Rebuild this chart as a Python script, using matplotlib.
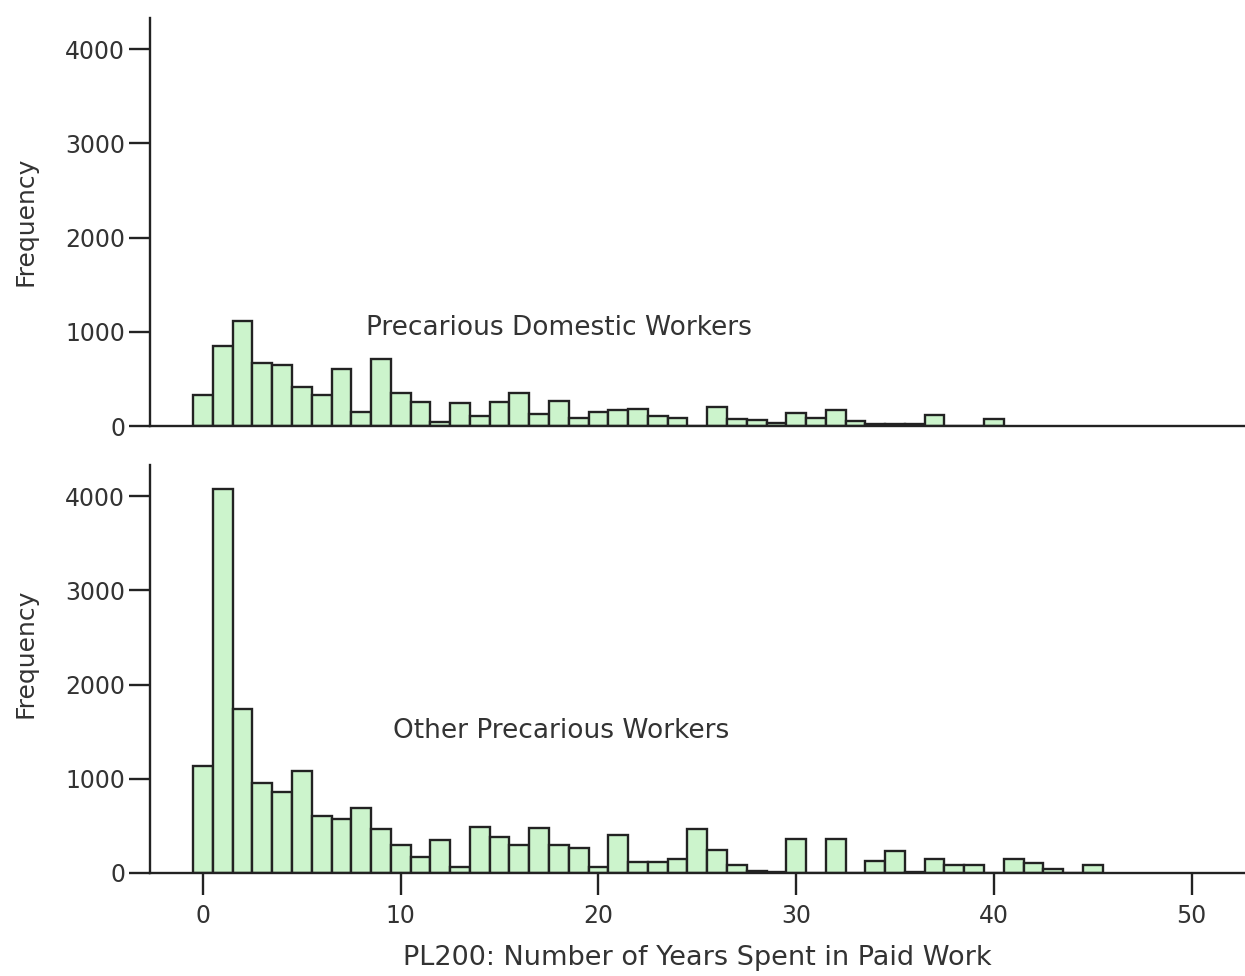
import numpy as np
import matplotlib
matplotlib.use("Agg")
import matplotlib.pyplot as plt

# Frequencies per whole year of paid work
domestic_years = np.arange(0, 41)
domestic_freq = [330, 850, 1110, 665, 645, 410, 330, 605, 150, 715,
                 345, 255, 45, 240, 110, 255, 350, 125, 265, 80,
                 150, 175, 185, 110, 90, 0, 205, 75, 65, 30,
                 135, 90, 175, 55, 20, 20, 20, 115, 0, 0,
                 75]

other_years = np.arange(0, 46)
other_freq = [1140, 4080, 1740, 955, 860, 1085, 600, 575, 685, 470,
              295, 170, 345, 60, 490, 380, 300, 480, 300, 270,
              60, 405, 120, 120, 150, 470, 240, 80, 25, 15,
              360, 0, 360, 0, 125, 235, 15, 150, 80, 90,
              0, 150, 105, 45, 0, 90]

panel_labels = ["Precarious Domestic Workers", "Other Precarious Workers"]
x_ticks = [0, 10, 20, 30, 40, 50]
y_ticks = [0, 1000, 2000, 3000, 4000]

bar_fill = "#ccf4cc"
ink = "#222222"
txt = "#333333"

W, H = 1245, 976
fig = plt.figure(figsize=(W / 100, H / 100), dpi=100)
ax1 = fig.add_axes([150 / W, 1 - 426 / H, 1 - 150 / W, 408 / H])
ax2 = fig.add_axes([150 / W, 1 - 873 / H, 1 - 150 / W, 408 / H])

data = [(domestic_years, domestic_freq), (other_years, other_freq)]
label_pos = [(18.0, 1040), (18.1, 1510)]
ylabel_y = [221, 653]

for ax, (yrs, freq), lab, pos, yy in zip([ax1, ax2], data, panel_labels, label_pos, ylabel_y):
    ax.bar(yrs, freq, width=1.0, color=bar_fill, edgecolor=ink, linewidth=1.7)
    ax.set_xlim(-2.68, 52.7)
    ax.set_ylim(0, 4330)
    ax.spines["top"].set_visible(False)
    ax.spines["right"].set_visible(False)
    for side in ["left", "bottom"]:
        ax.spines[side].set_linewidth(1.7)
        ax.spines[side].set_color(ink)
    ax.set_yticks(y_ticks)
    ax.tick_params(axis="y", direction="out", length=15, width=1.7, color=ink,
                   pad=3, labelsize=17, labelcolor=txt)
    ax.text(pos[0], pos[1], lab, ha="center", va="center", fontsize=19, color=txt)
    fig.text(25 / W, 1 - yy / H, "Frequency", rotation=90, ha="center",
             va="center", fontsize=18, color=txt)

ax1.set_xticks([])

ax2.set_xticks(x_ticks)
ax2.tick_params(axis="x", direction="out", length=16, width=1.7, color=ink,
                pad=6, labelsize=17, labelcolor=txt)
fig.text(697 / W, 1 - 958 / H, "PL200: Number of Years Spent in Paid Work",
         ha="center", va="center", fontsize=19.5, color=txt)

fig.savefig("out.png", dpi=100)
